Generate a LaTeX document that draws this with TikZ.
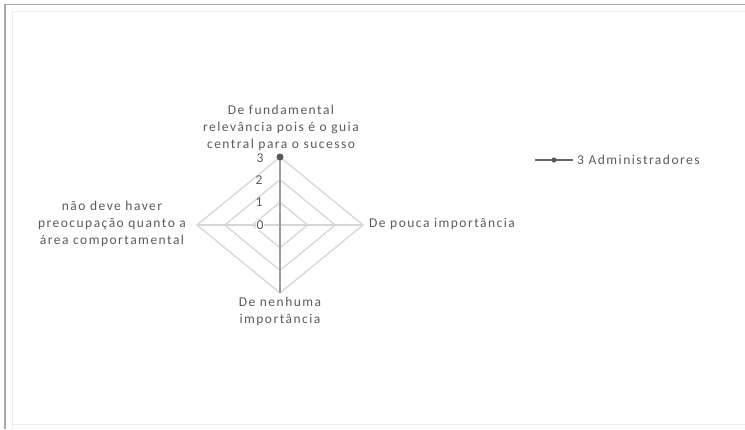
\documentclass[tikz,border=0pt]{standalone}
\usepackage{fontspec}
\setmainfont{Carlito}[LetterSpace=11]
\usetikzlibrary{calc}
\definecolor{grid}{HTML}{D6D6D6}
\definecolor{axisc}{HTML}{9A9A9A}
\definecolor{txt}{HTML}{5A5A5A}
\definecolor{frame}{HTML}{A8A8A8}
\begin{document}
\begin{tikzpicture}[x=1pt,y=-1pt,
  lbl/.style={font=\fontsize{13.5}{17}\selectfont, text=txt, inner sep=0pt, align=center},
  tick/.style={font=\fontsize{13.5}{15}\selectfont, text=txt, inner sep=0pt},
  gridline/.style={draw=grid, line width=1.3pt},
  axisline/.style={draw=grid, line width=1.3pt},
  dataline/.style={draw=axisc, line width=1.3pt}]
\useasboundingbox (0,0) rectangle (745,429);
% frame
\draw[frame, line width=1.4pt] (5,429) -- (5,4.5) -- (745,4.5);
\draw[grid!50, line width=0.8pt] (12,429) -- (12,11) -- (745,11);
\draw[grid!50, line width=0.8pt] (12,424) -- (745,424);
% radar
\coordinate (c) at (280,225);
\coordinate (t) at (280,157);
\coordinate (r) at (363,225);
\coordinate (b) at (280,293);
\coordinate (l) at (197,225);
\foreach \k in {1,2,3}{
  \draw[gridline] ($(c)!\k/3!(t)$) -- ($(c)!\k/3!(r)$) -- ($(c)!\k/3!(b)$) -- ($(c)!\k/3!(l)$) -- cycle;
}
\draw[axisline] (l) -- (r);
\draw[dataline] (t) -- (b);
\fill[black!65] (t) circle (3.5pt);
% ticks
\node[tick] (n3) at (260,158) {3};
\node[tick] (n2) at (259,180) {2};
\node[tick] (n1) at (259,202) {1};
\node[tick, fill=white, inner sep=0.5pt] (n0) at (260,225) {0};
% labels
\node[lbl] (lt) at (281,128) {De fundamental\\relevância pois é o guia\\central para o sucesso};
\node[lbl, anchor=west] (lr) at (369,224) {De pouca importância};
\node[lbl] (lb) at (280,311) {De nenhuma\\importância};
\node[lbl] (ll) at (112,224) {não deve haver\\preocupação quanto a\\área comportamental};
% legend
\coordinate (g1) at (535,160);
\coordinate (g2) at (573,160);
\draw[dataline, draw=black!60] (g1) -- (g2);
\fill[black!65] ($(g1)!0.5!(g2)$) circle (2.6pt);
\node[lbl, anchor=west] (leg) at (577,160) {3 Administradores};
\end{tikzpicture}
\end{document}
